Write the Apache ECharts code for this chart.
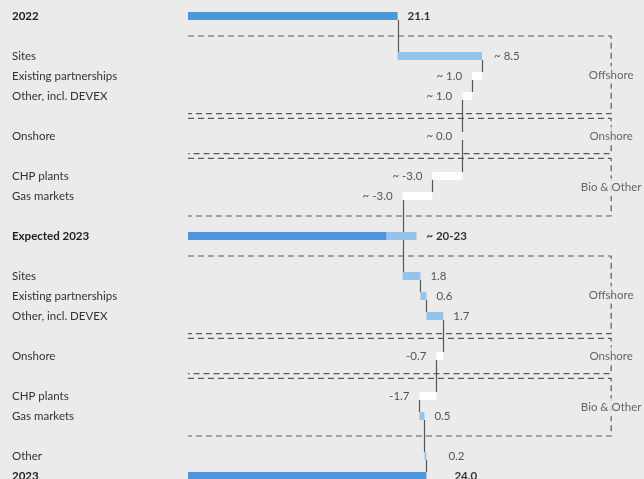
<!DOCTYPE html>
<html>
<head>
<meta charset="utf-8">
<script src="https://cdn.jsdelivr.net/npm/echarts@6/dist/echarts.min.js"></script>
<style>
  html, body { margin: 0; padding: 0; background: #ebebeb; overflow: hidden; }
  #chart { width: 644px; height: 486px; }
</style>
</head>
<body>
<div id="chart"></div>
<script>
// Row labels, top to bottom (blank rows hold the dashed group separators)
const categories = [
  '2022', '', 'Sites', 'Existing partnerships', 'Other, incl. DEVEX', '', 'Onshore', '',
  'CHP plants', 'Gas markets', '', 'Expected 2023', '', 'Sites', 'Existing partnerships',
  'Other, incl. DEVEX', '', 'Onshore', '', 'CHP plants', 'Gas markets', '', 'Other', '2023'
];
// Bar values per row (EUR bn); totals reset the running sum, deltas add to it
const values = [
  21.1, null, 8.5, -1.0, -1.0, null, 0.0, null, -3.0, -3.0, null, 20, null,
  1.8, 0.6, 1.7, null, -0.7, null, -1.7, 0.5, null, 0.2, 24.0
];
const kinds = [
  'total', '', 'delta', 'delta', 'delta', '', 'delta', '', 'delta', 'delta', '', 'range', '',
  'delta', 'delta', 'delta', '', 'delta', '', 'delta', 'delta', '', 'delta', 'total'
];
// Expected 2023 outlook range
const expectedRange = [20, 23];
// Value label texts
const valueLabels = [
  '21.1', '', '~ 8.5', '~ 1.0', '~ 1.0', '', '~ 0.0', '', '~ -3.0', '~ -3.0', '', '~ 20-23', '',
  '1.8', '0.6', '1.7', '', '-0.7', '', '-1.7', '0.5', '', '0.2', '24.0'
];
// Segment groups (first and last row of each)
const groupNames = ['Offshore', 'Onshore', 'Bio & Other', 'Offshore', 'Onshore', 'Bio & Other'];
const groupFirstRow = [2, 6, 8, 13, 17, 19];
const groupLastRow = [4, 6, 9, 15, 17, 20];

// ---- styling ----
const BG = '#ebebeb';
const DARK = '#4d95dc';
const LIGHT = '#94c3ec';
const NEG = '#ffffff';
const FONT = 'Lato';
const FS = 11.5;
const BOX_RIGHT = 42.6;      // right edge of the group frames, in axis units
const PAIR_GAP = 0.12;       // separation of adjacent frame lines, in rows
const labelGap = { 2: 12, 22: 22, 23: 28 };

// ---- waterfall build ----
const baseData = [], stepData = [], upperData = [], runAfter = [];
let run = 0;
values.forEach((v, i) => {
  if (v === null) { baseData.push('-'); stepData.push('-'); upperData.push('-'); runAfter.push(null); return; }
  const dist = labelGap[i] !== undefined ? labelGap[i] : 10;
  if (kinds[i] === 'total') {
    baseData.push(0);
    stepData.push({ value: v, itemStyle: { color: DARK },
      label: { show: true, position: 'right', distance: dist, formatter: valueLabels[i],
               fontWeight: 'bold', color: '#333' } });
    upperData.push('-');
    run = v;
  } else if (kinds[i] === 'range') {
    baseData.push(0);
    stepData.push({ value: expectedRange[0], itemStyle: { color: DARK } });
    upperData.push({ value: expectedRange[1] - expectedRange[0], itemStyle: { color: LIGHT },
      label: { show: true, position: 'right', distance: dist, formatter: valueLabels[i],
               fontWeight: 'bold', color: '#333' } });
  } else {
    const end = run + v;
    baseData.push(Math.min(run, end));
    stepData.push({ value: Math.abs(v), itemStyle: { color: v < 0 ? NEG : LIGHT },
      label: { show: true, position: v <= 0 ? 'left' : 'right', distance: dist,
               formatter: valueLabels[i], color: '#555' } });
    upperData.push('-');
    run = end;
  }
  runAfter.push(run);
});

// vertical connectors between consecutive bars
const connectors = [];
let prev = null;
values.forEach((v, i) => {
  if (v === null) return;
  if (prev !== null) connectors.push([runAfter[prev], prev, i]);
  prev = i;
});

// dashed group frames
const frameSeries = [];
const frameLabels = [];
groupNames.forEach((name, g) => {
  let top = groupFirstRow[g] - 1;
  let bottom = groupLastRow[g] + 1;
  if (g > 0 && groupLastRow[g - 1] + 1 === top) top += PAIR_GAP;
  if (g < groupNames.length - 1 && groupFirstRow[g + 1] - 1 === bottom) bottom -= PAIR_GAP;
  frameSeries.push({
    type: 'line', xAxisIndex: 0, yAxisIndex: 1, symbol: 'none', silent: true, z: 1,
    lineStyle: { color: '#5a5a5a', width: 1.2, type: [6, 4] },
    data: [[0, top], [BOX_RIGHT, top], [BOX_RIGHT, bottom], [0, bottom]]
  });
  frameLabels.push({ name: name, value: [BOX_RIGHT, (top + bottom) / 2] });
});

const chart = echarts.init(document.getElementById('chart'), null, { renderer: 'canvas' });
chart.setOption({
  backgroundColor: BG,
  animation: false,
  textStyle: { fontFamily: FONT, fontSize: FS },
  grid: { left: 188, top: 6, right: 9, bottom: 0 },
  xAxis: { type: 'value', min: 0, max: 45, show: false },
  yAxis: [
    {
      type: 'category', data: categories, inverse: true,
      axisLine: { show: false }, axisTick: { show: false }, splitLine: { show: false },
      axisLabel: {
        interval: 0, align: 'left', margin: 176, color: '#333',
        fontFamily: FONT, fontSize: FS,
        formatter: (val, i) => (kinds[i] === 'total' || kinds[i] === 'range') ? '{b|' + val + '}' : val,
        rich: { b: { fontWeight: 'bold', fontFamily: FONT, fontSize: FS, color: '#222' } }
      }
    },
    { type: 'value', min: -0.5, max: 23.5, inverse: true, show: false }
  ],
  series: [
    ...frameSeries,
    {
      type: 'scatter', xAxisIndex: 0, yAxisIndex: 1, symbolSize: 1, silent: true, z: 3,
      itemStyle: { color: 'rgba(0,0,0,0)' },
      label: {
        show: true, position: 'inside', formatter: p => p.name,
        backgroundColor: BG, padding: [3, 1], color: '#444', fontFamily: FONT, fontSize: FS
      },
      data: frameLabels
    },
    {
      type: 'custom', xAxisIndex: 0, yAxisIndex: 0, z: 2, silent: true,
      encode: { x: 0, y: 1 },
      renderItem: (params, api) => {
        const x = api.value(0);
        const a = api.coord([x, api.value(1)]);
        const b = api.coord([x, api.value(2)]);
        const px = Math.round(a[0]) + 0.5;
        return {
          type: 'line',
          shape: { x1: px, y1: a[1] + 4, x2: px, y2: b[1] - 4 },
          style: { stroke: '#555', lineWidth: 1.2 }
        };
      },
      data: connectors
    },
    {
      type: 'bar', stack: 'wf', barWidth: 8, z: 4, silent: true,
      itemStyle: { color: 'rgba(0,0,0,0)' }, data: baseData
    },
    {
      type: 'bar', stack: 'wf', barWidth: 8, z: 4,
      label: { fontFamily: FONT, fontSize: FS }, data: stepData
    },
    {
      type: 'bar', stack: 'wf', barWidth: 8, z: 4,
      label: { fontFamily: FONT, fontSize: FS }, data: upperData
    }
  ]
});
</script>
</body>
</html>
